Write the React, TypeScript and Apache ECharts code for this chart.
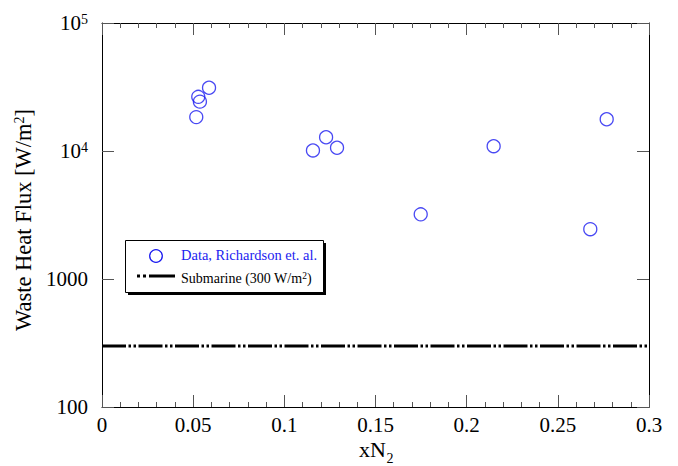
import React, { useEffect, useRef } from 'react';
import * as echarts from 'echarts';

// Data
const xN2 = [0.0587, 0.0528, 0.0537, 0.0517, 0.1229, 0.1157, 0.1289, 0.2768, 0.2148, 0.1748, 0.2678];
const heatFlux = [31200, 26500, 24300, 18400, 12800, 10100, 10600, 17700, 10900, 3200, 2450];
const submarineFlux = 300;
const xLimits = [0, 0.3];
const yLimits = [100, 100000];
const legendLabels = ['Data, Richardson et. al.', 'Submarine (300 W/m{s|2})'];
const xTitle = ['xN', '2'];

const FONT = 'Liberation Serif, Times New Roman, serif';
const BLUE = '#1c1cf0';

export default function App() {
  const ref = useRef<HTMLDivElement>(null);

  useEffect(() => {
    const chart = echarts.init(ref.current!, null, { renderer: 'svg' });
    const axisLine = { show: true, onZero: false, lineStyle: { color: '#000', width: 1 } };
    const tickStyle = { color: '#555', width: 1 };
    const yLabelFmt = (v: number) => {
      const e = Math.round(Math.log10(v));
      if (e >= 4) return `{b|10}{s|${e}}`;
      return `{b|${v}}`;
    };
    const labelRich = {
      b: { fontFamily: FONT, fontSize: 21, lineHeight: 21, color: '#000' },
      s: { fontFamily: FONT, fontSize: 14, lineHeight: 14, color: '#000', verticalAlign: 'top' },
    };

    chart.setOption({
      animation: false,
      backgroundColor: '#fff',
      grid: { left: 102, top: 23, width: 547, height: 384, containLabel: false, outerBoundsMode: 'none' },
      xAxis: [
        {
          type: 'value', min: xLimits[0], max: xLimits[1], interval: 0.05, position: 'bottom',
          axisLine,
          axisTick: { show: true, inside: true, length: 12, lineStyle: tickStyle },
          minorTick: { show: true, splitNumber: 5, length: 5, lineStyle: tickStyle },
          splitLine: { show: false },
          axisLabel: { fontFamily: FONT, fontSize: 21, lineHeight: 19, color: '#000', margin: 8 },
        },
        {
          type: 'value', min: xLimits[0], max: xLimits[1], interval: 0.05, position: 'top',
          axisLine,
          axisTick: { show: true, inside: true, length: 12, lineStyle: tickStyle },
          minorTick: { show: true, splitNumber: 5, length: 5, lineStyle: tickStyle },
          splitLine: { show: false },
          axisLabel: { show: false },
        },
      ],
      yAxis: [
        {
          type: 'log', logBase: 10, min: yLimits[0], max: yLimits[1], position: 'left',
          axisLine,
          axisTick: { show: true, inside: true, length: 12, lineStyle: tickStyle },
          minorTick: { show: false },
          splitLine: { show: false },
          axisLabel: { formatter: yLabelFmt, margin: 14, fontFamily: FONT, rich: labelRich },
          name: '{a|Waste Heat Flux [W/m}{s|2}{a|]}',
          nameLocation: 'middle',
          nameGap: 58,
          nameTextStyle: {
            fontFamily: FONT,
            padding: [0, 10, 0, 0],
            rich: {
              a: { fontFamily: FONT, fontSize: 22.5, lineHeight: 22, color: '#000' },
              s: { fontFamily: FONT, fontSize: 14, lineHeight: 14, color: '#000', verticalAlign: 'top' },
            },
          },
        },
        {
          type: 'log', logBase: 10, min: yLimits[0], max: yLimits[1], position: 'right',
          axisLine,
          axisTick: { show: true, inside: true, length: 12, lineStyle: tickStyle },
          minorTick: { show: false },
          splitLine: { show: false },
          axisLabel: { show: false },
        },
      ],
      series: [
        {
          type: 'line',
          xAxisIndex: 0, yAxisIndex: 0,
          data: [[xLimits[0], submarineFlux], [xLimits[1], submarineFlux]],
          symbol: 'none',
          lineStyle: { color: '#000', width: 3, type: [24, 2.5, 2.5, 2.5, 2.5, 2.5], cap: 'butt' },
          silent: true,
        },
        {
          type: 'scatter',
          xAxisIndex: 0, yAxisIndex: 0,
          data: xN2.map((x, i) => [x, heatFlux[i]]),
          symbol: 'circle',
          symbolSize: 13,
          itemStyle: { color: 'rgba(255,255,255,0)', borderColor: BLUE, borderWidth: 1.3 },
        },
      ],
      graphic: [
        {
          type: 'text', x: 359, y: 449, z: 12,
          style: { text: xTitle[0], fill: '#000', fontFamily: FONT, fontSize: 22, verticalAlign: 'middle', align: 'left' },
        },
        {
          type: 'text', x: 386.5, y: 458.5, z: 12,
          style: { text: xTitle[1], fill: '#000', fontFamily: FONT, fontSize: 14, verticalAlign: 'middle', align: 'left' },
        },
        { type: 'rect', shape: { x: 128, y: 243, width: 198, height: 52 }, style: { fill: '#000' }, z: 10 },
        { type: 'rect', shape: { x: 125.5, y: 240.5, width: 198, height: 52 }, style: { fill: '#fff', stroke: '#000', lineWidth: 1 }, z: 11 },
        { type: 'circle', shape: { cx: 156, cy: 256, r: 6.3 }, style: { fill: 'none', stroke: BLUE, lineWidth: 1.3 }, z: 12 },
        { type: 'line', shape: { x1: 137, y1: 276, x2: 175, y2: 276 }, style: { stroke: '#000', lineWidth: 3, lineDash: [3, 3, 3, 3, 26, 3] }, z: 12 },
        {
          type: 'text', x: 181, y: 255, z: 12,
          style: { text: legendLabels[0], fill: BLUE, fontFamily: FONT, fontSize: 14.5, verticalAlign: 'middle', align: 'left' },
        },
        {
          type: 'text', x: 181, y: 278, z: 12,
          style: {
            text: legendLabels[1], fill: '#000', fontFamily: FONT, fontSize: 14, verticalAlign: 'middle', align: 'left',
            rich: { s: { fontFamily: FONT, fontSize: 9.5, fill: '#000', verticalAlign: 'top', lineHeight: 9 } },
            lineHeight: 15,
          },
        },
      ],
    });
    return () => chart.dispose();
  }, []);

  return <div ref={ref} style={{ position: 'fixed', left: 0, top: 0, width: 678, height: 466 }} />;
}
